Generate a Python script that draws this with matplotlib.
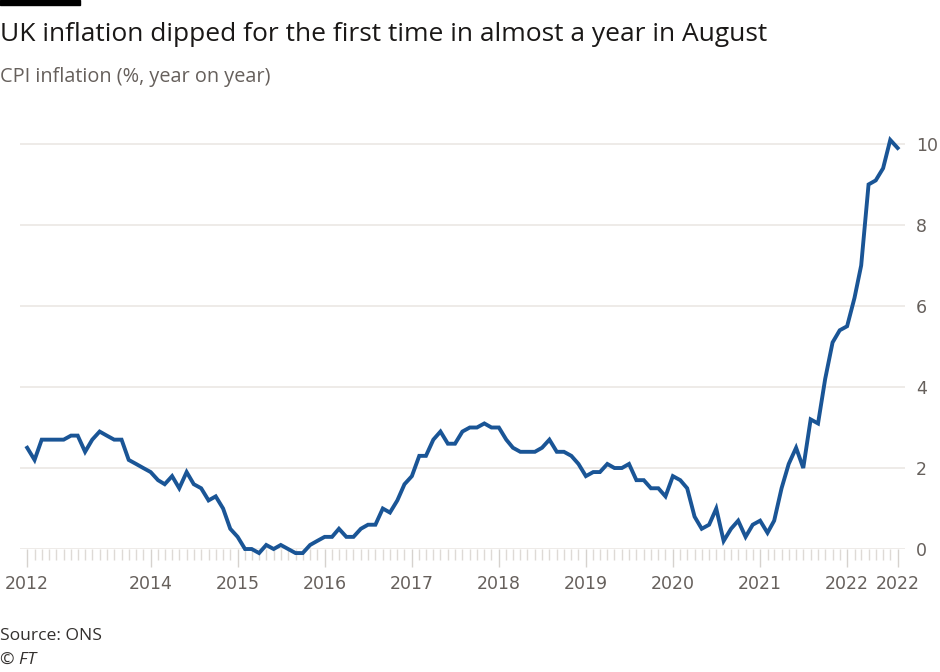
import pandas as pd
import matplotlib.pyplot as plt
import matplotlib.dates as mdates
from matplotlib.ticker import FixedLocator, FixedFormatter

# UK CPI inflation, % year on year, Aug 2012 - Aug 2022
months = pd.date_range("2012-08-01", "2022-08-01", freq="MS")
cpi = [
    2.5, 2.2, 2.7, 2.7, 2.7,                                          # 2012 Aug-Dec
    2.7, 2.8, 2.8, 2.4, 2.7, 2.9, 2.8, 2.7, 2.7, 2.2, 2.1, 2.0,       # 2013
    1.9, 1.7, 1.6, 1.8, 1.5, 1.9, 1.6, 1.5, 1.2, 1.3, 1.0, 0.5,       # 2014
    0.3, 0.0, 0.0, -0.1, 0.1, 0.0, 0.1, 0.0, -0.1, -0.1, 0.1, 0.2,    # 2015
    0.3, 0.3, 0.5, 0.3, 0.3, 0.5, 0.6, 0.6, 1.0, 0.9, 1.2, 1.6,       # 2016
    1.8, 2.3, 2.3, 2.7, 2.9, 2.6, 2.6, 2.9, 3.0, 3.0, 3.1, 3.0,       # 2017
    3.0, 2.7, 2.5, 2.4, 2.4, 2.4, 2.5, 2.7, 2.4, 2.4, 2.3, 2.1,       # 2018
    1.8, 1.9, 1.9, 2.1, 2.0, 2.0, 2.1, 1.7, 1.7, 1.5, 1.5, 1.3,       # 2019
    1.8, 1.7, 1.5, 0.8, 0.5, 0.6, 1.0, 0.2, 0.5, 0.7, 0.3, 0.6,       # 2020
    0.7, 0.4, 0.7, 1.5, 2.1, 2.5, 2.0, 3.2, 3.1, 4.2, 5.1, 5.4,       # 2021
    5.5, 6.2, 7.0, 9.0, 9.1, 9.4, 10.1, 9.9,                          # 2022 Jan-Aug
]
tick_dates = ["2012-08-01", "2014-01-01", "2015-01-01", "2016-01-01", "2017-01-01",
              "2018-01-01", "2019-01-01", "2020-01-01", "2021-01-01", "2022-01-01",
              "2022-08-01"]
tick_labels = ["2012", "2014", "2015", "2016", "2017", "2018", "2019", "2020",
               "2021", "2022", "2022"]
y_ticks = [0, 2, 4, 6, 8, 10]

grey = "#66605c"
grid_col = "#e9e6e2"
line_col = "#1a5596"

fig = plt.figure(figsize=(9.4, 6.72), dpi=100)
fig.patch.set_facecolor("white")
ax = fig.add_axes([0.0213, 0.183, 0.9415, 0.651])

ax.plot(months, cpi, color=line_col, lw=2.8, solid_joinstyle="miter", clip_on=False, zorder=3)

ax.set_xlim(pd.Timestamp("2012-07-02"), pd.Timestamp("2022-09-01"))
ax.set_ylim(0, 10.8)

for s in ax.spines.values():
    s.set_visible(False)

ax.yaxis.tick_right()
ax.set_yticks(y_ticks)
ax.set_yticklabels([str(v) for v in y_ticks])
ax.tick_params(axis="y", length=0, pad=8, labelsize=12.5, labelcolor=grey)
ax.grid(axis="y", color=grid_col, lw=1.1, zorder=0)

xt = [mdates.date2num(pd.Timestamp(d)) for d in tick_dates]
ax.xaxis.set_major_locator(FixedLocator(xt))
ax.xaxis.set_major_formatter(FixedFormatter(tick_labels))
ax.xaxis.set_minor_locator(FixedLocator([mdates.date2num(m) for m in months]))
ax.tick_params(axis="x", which="major", length=13, width=1, color="#d6d2ce",
               pad=6, labelsize=12.5, labelcolor=grey)
ax.tick_params(axis="x", which="minor", length=8, width=1, color="#dedad6")

fig.patches.append(plt.Rectangle((0, 0.992), 0.085, 0.008, transform=fig.transFigure,
                                 color="black", zorder=5))
fig.text(0.0, 0.948, "UK inflation dipped for the first time in almost a year in August",
         fontsize=19, color="#1a1817", va="center", ha="left", family="Open Sans")
fig.text(0.0, 0.886, "CPI inflation (%, year on year)", fontsize=14.3, color=grey,
         va="center", ha="left", family="Open Sans")
fig.text(0.0, 0.053, "Source: ONS", fontsize=12.6, color="#33302e", va="center", ha="left",
         family="Open Sans")
fig.text(0.0, 0.018, "© FT", fontsize=12.6, color="#33302e", va="center", ha="left",
         style="italic", family="Open Sans")

fig.savefig("out.png", dpi=100, facecolor="white")
